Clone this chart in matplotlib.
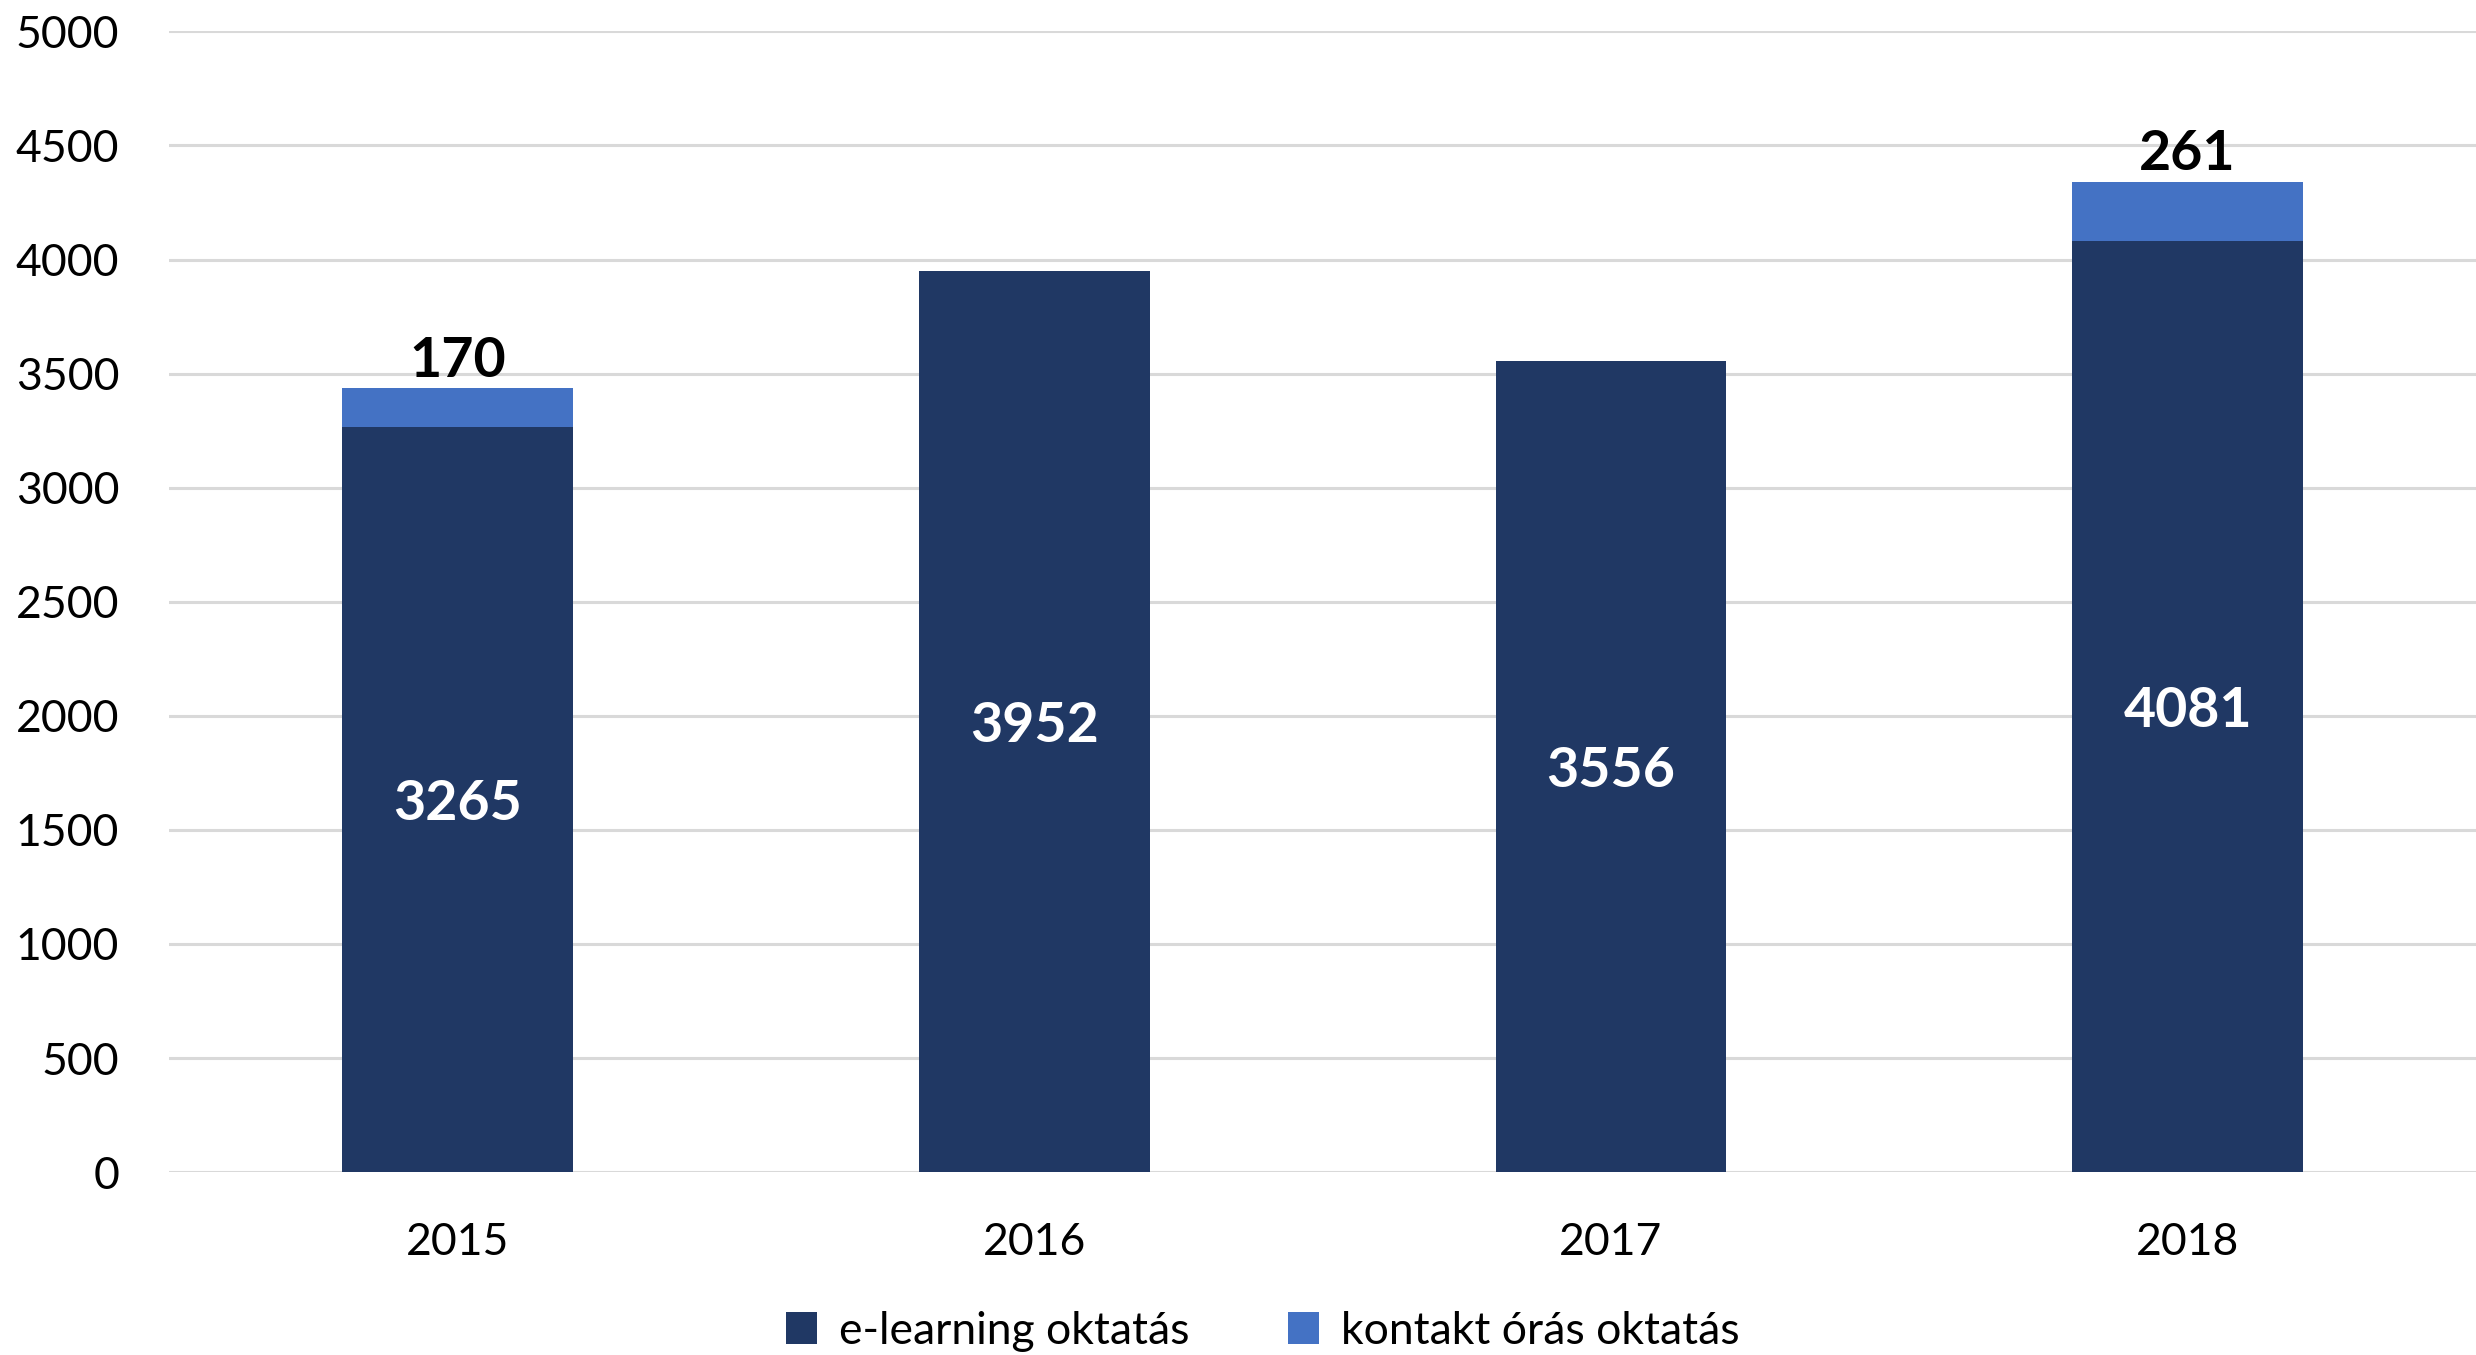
import numpy as np
from matplotlib import pyplot as plt

years = ['2015', '2016', '2017', '2018']
elearning = [3265, 3952, 3556, 4081]
kontakt = [170, 0, 0, 261]
series_names = ['e-learning oktatás', 'kontakt órás oktatás']

DARK = '#203864'
LIGHT = '#4472C4'

plt.rcParams['font.family'] = ['Lato', 'DejaVu Sans']

fig = plt.figure(figsize=(24.76, 13.55), dpi=100)
ax = fig.add_axes([0.0683, 0.135, 0.9317, 0.8418])

x = np.arange(len(years))
width = 0.4
ax.bar(x, elearning, width, color=DARK, label=series_names[0], zorder=3)
ax.bar(x, kontakt, width, bottom=elearning, color=LIGHT, label=series_names[1], zorder=3)

# value labels
for i in range(len(years)):
    ax.text(x[i], elearning[i] / 2, str(elearning[i]), ha='center', va='center_baseline',
            color='white', fontsize=40, fontweight='bold', zorder=4)
    if kontakt[i] > 0:
        ax.annotate(str(kontakt[i]), (x[i], elearning[i] + kontakt[i]),
                    xytext=(0, 2), textcoords='offset points',
                    ha='center', va='bottom', fontsize=40, fontweight='bold', zorder=4)

ax.set_xlim(-0.5, 3.5)
ax.set_ylim(0, 5000)
ax.set_yticks(np.arange(0, 5001, 500))
ax.set_xticks(x)
ax.set_xticklabels(years)
ax.tick_params(axis='both', length=0, labelsize=32)
ax.tick_params(axis='x', pad=36)
ax.tick_params(axis='y', pad=36)
ax.grid(axis='y', color='#D9D9D9', linewidth=2.2, zorder=0)
for s in ax.spines.values():
    s.set_visible(False)

fig.legend(loc='lower center', bbox_to_anchor=(0.51, -0.027), ncol=2, frameon=False,
           fontsize=32, handlelength=0.7, handleheight=0.7, handletextpad=0.5,
           columnspacing=2.2)

plt.savefig('out.png')
